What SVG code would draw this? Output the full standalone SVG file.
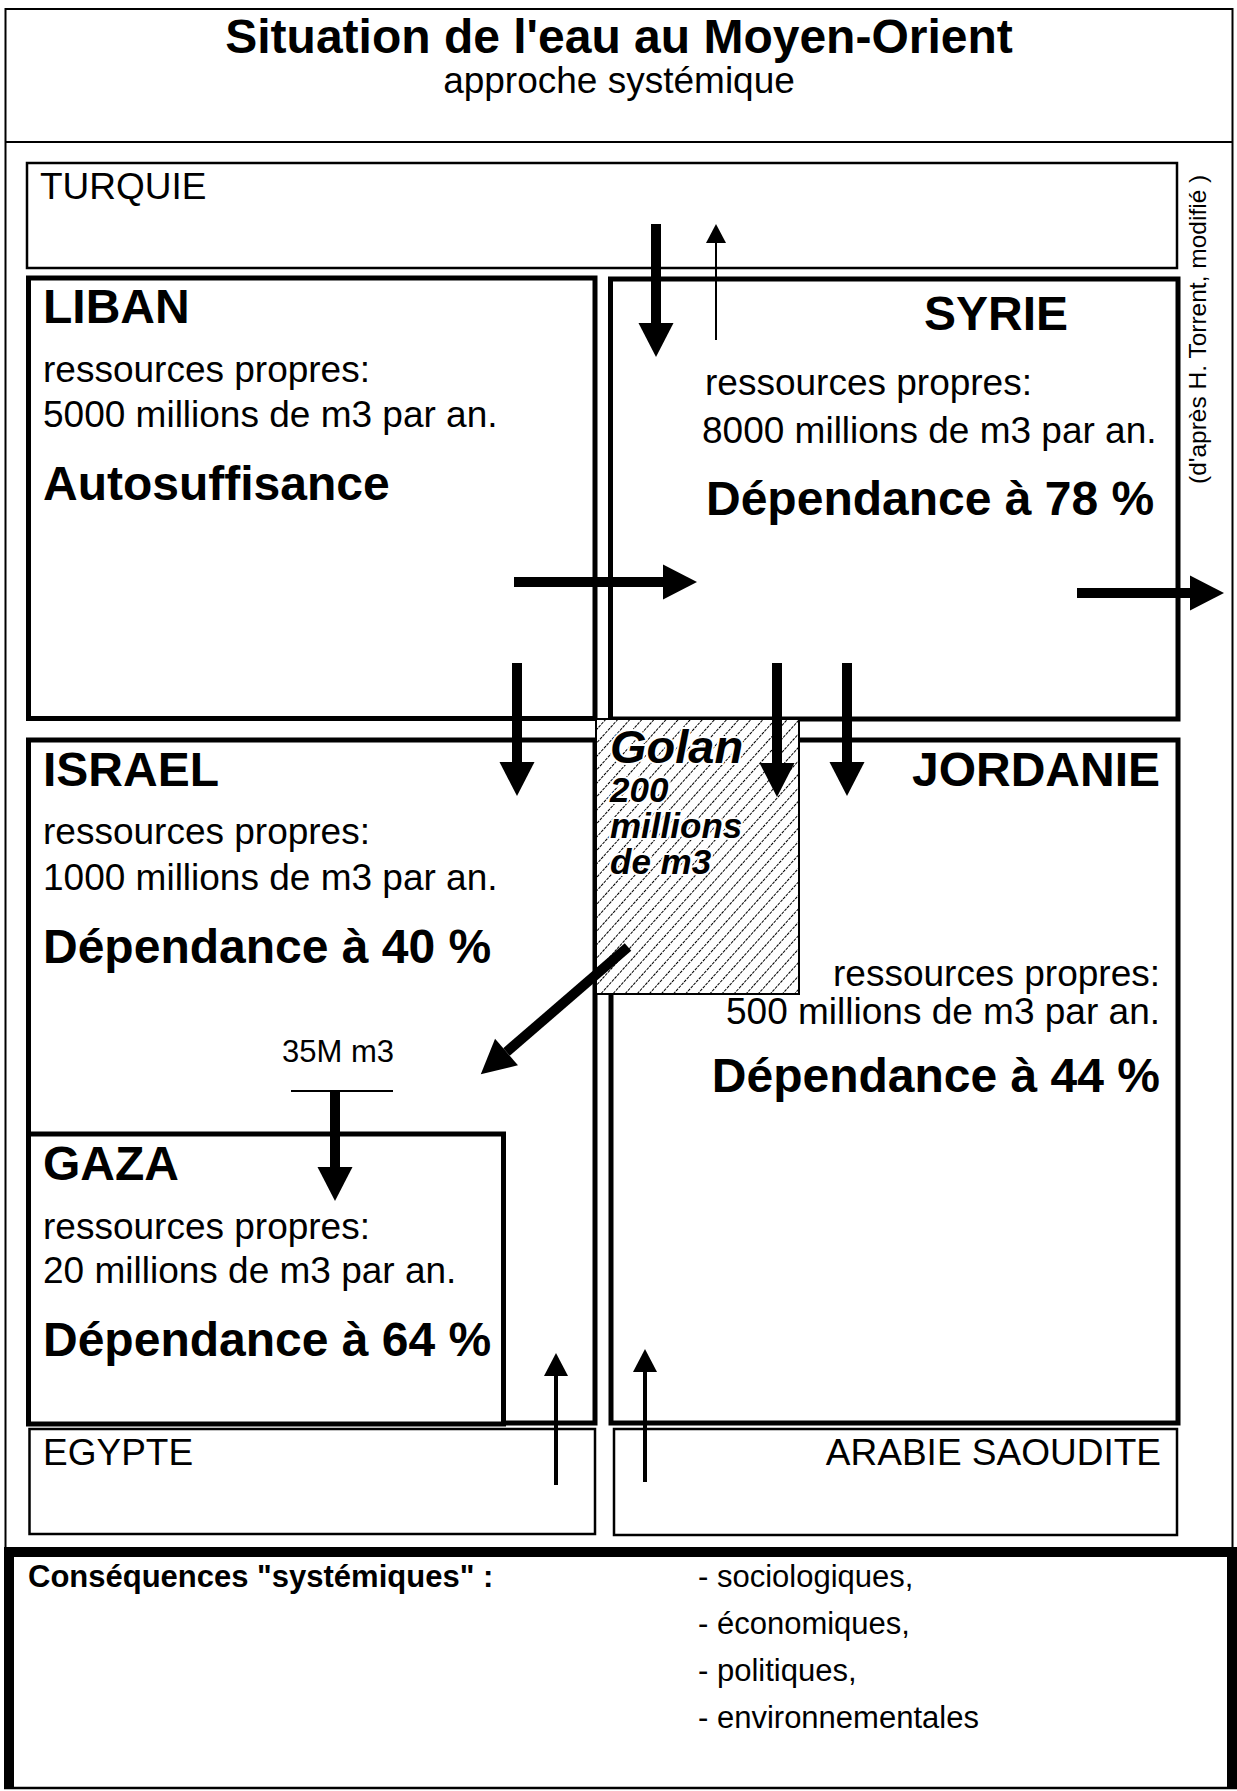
<svg xmlns="http://www.w3.org/2000/svg" width="1237" height="1791" viewBox="0 0 1237 1791">
<style>
text{font-family:"Liberation Sans",Arial,Helvetica,sans-serif;fill:#000}
.ttl{font-size:48px;font-weight:bold}
.sub{font-size:37px}
.h{font-size:48px;font-weight:bold}
.t{font-size:37px}
.s{font-size:31px}
.v{font-size:24.5px}
.sb{font-size:31px;font-weight:bold}
.g1{font-size:47px;font-weight:bold;font-style:italic;stroke:#fff;stroke-width:4;paint-order:stroke;stroke-linejoin:round}
.g2{font-size:35px;font-weight:bold;font-style:italic;stroke:#fff;stroke-width:4;paint-order:stroke;stroke-linejoin:round}
.end{text-anchor:end}
.mid{text-anchor:middle}
.frame{fill:none;stroke:#000;stroke-width:2}
.box{fill:none;stroke:#000;stroke-width:5}
.thinbox{fill:none;stroke:#000;stroke-width:2.5}
.thick{stroke:#000;stroke-width:10;fill:none;marker-end:url(#headL)}
.med{stroke:#000;stroke-width:4;fill:none;marker-end:url(#headM)}
.fine{stroke:#000;stroke-width:2;fill:none;marker-end:url(#headS)}
</style>
<defs>
<marker id="headL" markerUnits="userSpaceOnUse" markerWidth="35" markerHeight="35" refX="0" refY="17.5" orient="auto" overflow="visible">
<path d="M0,0 L34,17.5 L0,35 Z" fill="#000"/>
</marker>
<marker id="headM" markerUnits="userSpaceOnUse" markerWidth="24" markerHeight="24" refX="0" refY="12" orient="auto" overflow="visible">
<path d="M0,0 L23,12 L0,24 Z" fill="#000"/>
</marker>
<marker id="headS" markerUnits="userSpaceOnUse" markerWidth="20" markerHeight="20" refX="0" refY="10" orient="auto" overflow="visible">
<path d="M0,0 L19,10 L0,20 Z" fill="#000"/>
</marker>
<pattern id="hatch" patternUnits="userSpaceOnUse" width="8" height="9" patternTransform="rotate(-48)">
<rect width="8" height="9" fill="#fff"/>
<line x1="0" y1="4.5" x2="8" y2="4.5" stroke="#000" stroke-width="1" stroke-dasharray="3 1"/>
</pattern>
</defs>
<rect width="1237" height="1791" fill="#fff"/>

<g id="frame">
<rect class="frame" x="5.5" y="9" width="1227" height="1543"/>
<line class="frame" x1="5.5" y1="142" x2="1232.5" y2="142"/>
<text class="ttl mid" x="619" y="53">Situation de l'eau au Moyen-Orient</text>
<text class="sub mid" x="619" y="93">approche systémique</text>
<text class="v" transform="translate(1206,484) rotate(-90)">(d'après H. Torrent, modifié )</text>
</g>

<g id="turquie">
<rect class="thinbox" x="27" y="163" width="1150" height="105"/>
<text class="t" x="40" y="199">TURQUIE</text>
</g>

<g id="liban">
<rect class="box" x="28.5" y="278" width="566.5" height="440.5"/>
<text class="h" x="43" y="323">LIBAN</text>
<text class="t" x="43" y="382">ressources propres:</text>
<text class="t" x="43" y="427">5000 millions de m3 par an.</text>
<text class="h" x="43" y="500">Autosuffisance</text>
</g>

<g id="syrie">
<rect class="box" x="610.5" y="279" width="567.5" height="440"/>
<text class="h" x="924" y="330">SYRIE</text>
<text class="t" x="705" y="395">ressources propres:</text>
<text class="t" x="702" y="443">8000 millions de m3 par an.</text>
<text class="h" x="706" y="515">Dépendance à 78 %</text>
</g>

<g id="israel">
<rect class="box" x="28.5" y="740" width="566.5" height="683"/>
<text class="h" x="43" y="786">ISRAEL</text>
<text class="t" x="43" y="844">ressources propres:</text>
<text class="t" x="43" y="890">1000 millions de m3 par an.</text>
<text class="h" x="43" y="963">Dépendance à 40 %</text>
</g>

<g id="jordanie">
<rect class="box" x="611" y="740" width="567" height="683"/>
<text class="h end" x="1160" y="786">JORDANIE</text>
<text class="t end" x="1160" y="986">ressources propres:</text>
<text class="t end" x="1160" y="1024">500 millions de m3 par an.</text>
<text class="h end" x="1160" y="1092">Dépendance à 44 %</text>
</g>

<g id="gaza">
<rect class="box" x="28.5" y="1134" width="475" height="290" style="fill:#fff"/>
<text class="h" x="43" y="1180">GAZA</text>
<text class="t" x="43" y="1239">ressources propres:</text>
<text class="t" x="43" y="1283">20 millions de m3 par an.</text>
<text class="h" x="43" y="1356">Dépendance à 64 %</text>
</g>

<g id="golan">
<rect x="596" y="719" width="203" height="275" fill="url(#hatch)" stroke="#000" stroke-width="2"/>
<text class="g1" x="610" y="763">Golan</text>
<text class="g2" x="610" y="802">200</text>
<text class="g2" x="610" y="838">millions</text>
<text class="g2" x="610" y="874">de m3</text>
</g>

<g id="egypte">
<rect class="thinbox" x="29.5" y="1429" width="565.5" height="105"/>
<text class="t" x="43" y="1465">EGYPTE</text>
</g>

<g id="arabie">
<rect class="thinbox" x="614" y="1429" width="563" height="106"/>
<text class="t end" x="1161" y="1465">ARABIE SAOUDITE</text>
</g>

<g id="label-35M">
<text class="s" x="282" y="1062">35M m3</text>
<line x1="291" y1="1091" x2="393" y2="1091" stroke="#000" stroke-width="2"/>
</g>

<g id="connectors">
<line class="thick" x1="656" y1="224" x2="656" y2="323"/>
<line class="fine" x1="716" y1="340" x2="716" y2="243"/>
<line class="thick" x1="514" y1="582" x2="663" y2="582"/>
<line class="thick" x1="1077" y1="593" x2="1190" y2="593"/>
<line class="thick" x1="517" y1="663" x2="517" y2="762"/>
<line class="thick" x1="777" y1="663" x2="777" y2="763"/>
<line class="thick" x1="847" y1="663" x2="847" y2="762"/>
<line class="thick" x1="628" y1="947" x2="506.5" y2="1052"/>
<line class="thick" x1="335" y1="1091" x2="335" y2="1167"/>
<line class="med" x1="556" y1="1485" x2="556" y2="1376"/>
<line class="med" x1="645" y1="1482" x2="645" y2="1372"/>
</g>

<g id="consequences">
<path d="M9,1788 L9,1552 L1232,1552 L1232,1788" fill="none" stroke="#000" stroke-width="10"/>
<line x1="4" y1="1788" x2="1237" y2="1788" stroke="#000" stroke-width="2.5"/>
<text class="sb" x="28" y="1587">Conséquences "systémiques" :</text>
<text class="s" x="698" y="1587">- sociologiques,</text>
<text class="s" x="698" y="1634">- économiques,</text>
<text class="s" x="698" y="1681">- politiques,</text>
<text class="s" x="698" y="1728">- environnementales</text>
</g>
</svg>
